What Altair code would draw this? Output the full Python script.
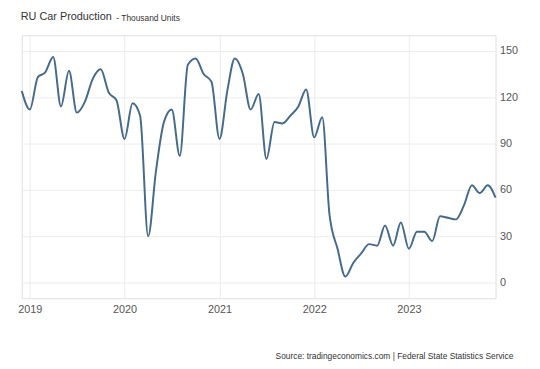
import altair as alt
import pandas as pd

months = pd.date_range("2018-12-01", "2023-12-01", freq="MS").strftime("%Y-%m-%d").tolist()
values = [
    124,
    112, 133, 136, 146, 114, 137, 110, 117, 132, 138, 123, 118,
    93, 116, 108, 30, 72, 104, 112, 82, 141, 145, 135, 130,
    93, 125, 145, 135, 112, 122, 80, 104, 103, 108, 114, 125,
    94, 107, 44, 22, 4, 13, 19, 25, 24, 37, 24, 39,
    22, 33, 33, 27, 43, 42, 41, 50, 63, 58, 63, 55,
]
y_ticks = [0, 30, 60, 90, 120, 150]
x_ticks = ["2019-01-01", "2020-01-01", "2021-01-01", "2022-01-01", "2023-01-01"]

df = pd.DataFrame({"date": months, "value": values})

FONT = "Liberation Sans"

line = alt.Chart(df).mark_line(
    color="#466a8a", strokeWidth=2, interpolate="monotone"
).encode(
    x=alt.X(
        "date:T",
        scale=alt.Scale(domain=["2018-12-01", "2023-12-01"], nice=False),
        axis=alt.Axis(
            values=[pd.Timestamp(v).isoformat() for v in x_ticks],
            format="%Y", title=None, domain=False, ticks=False,
            labelPadding=5, labelFontSize=11, labelColor="#555",
            labelFont=FONT, grid=True, gridColor="#ececec",
        ),
    ),
    y=alt.Y(
        "value:Q",
        scale=alt.Scale(domain=[-10, 160], nice=False),
        axis=alt.Axis(
            orient="right", values=y_ticks, title=None, domain=False,
            ticks=False, labelPadding=4, labelFontSize=11, labelColor="#555",
            labelFont=FONT, grid=True, gridColor="#ececec",
        ),
    ),
)

title = alt.Chart().mark_text(
    text="RU Car Production", align="left", baseline="middle",
    fontSize=11, color="#333", font=FONT,
).encode(x=alt.value(-1), y=alt.value(-19))

sub = alt.Chart().mark_text(
    text="- Thousand Units", align="left", baseline="middle",
    fontSize=8.5, color="#333", font=FONT,
).encode(x=alt.value(96), y=alt.value(-18))

source = alt.Chart().mark_text(
    text="Source: tradingeconomics.com | Federal State Statistics Service",
    align="right", baseline="middle", fontSize=8.5, color="#333", font=FONT,
).encode(x=alt.value(499), y=alt.value(326))

chart = alt.layer(line, title, sub, source).properties(
    width=481, height=267,
    autosize=alt.AutoSizeParams(type="none"),
    padding={"left": 14, "top": 25, "right": 37, "bottom": 61},
).configure_view(stroke="#e6e6e6").configure(background="white")

chart.save("out.html", embed_options={"renderer": "svg", "actions": False})
